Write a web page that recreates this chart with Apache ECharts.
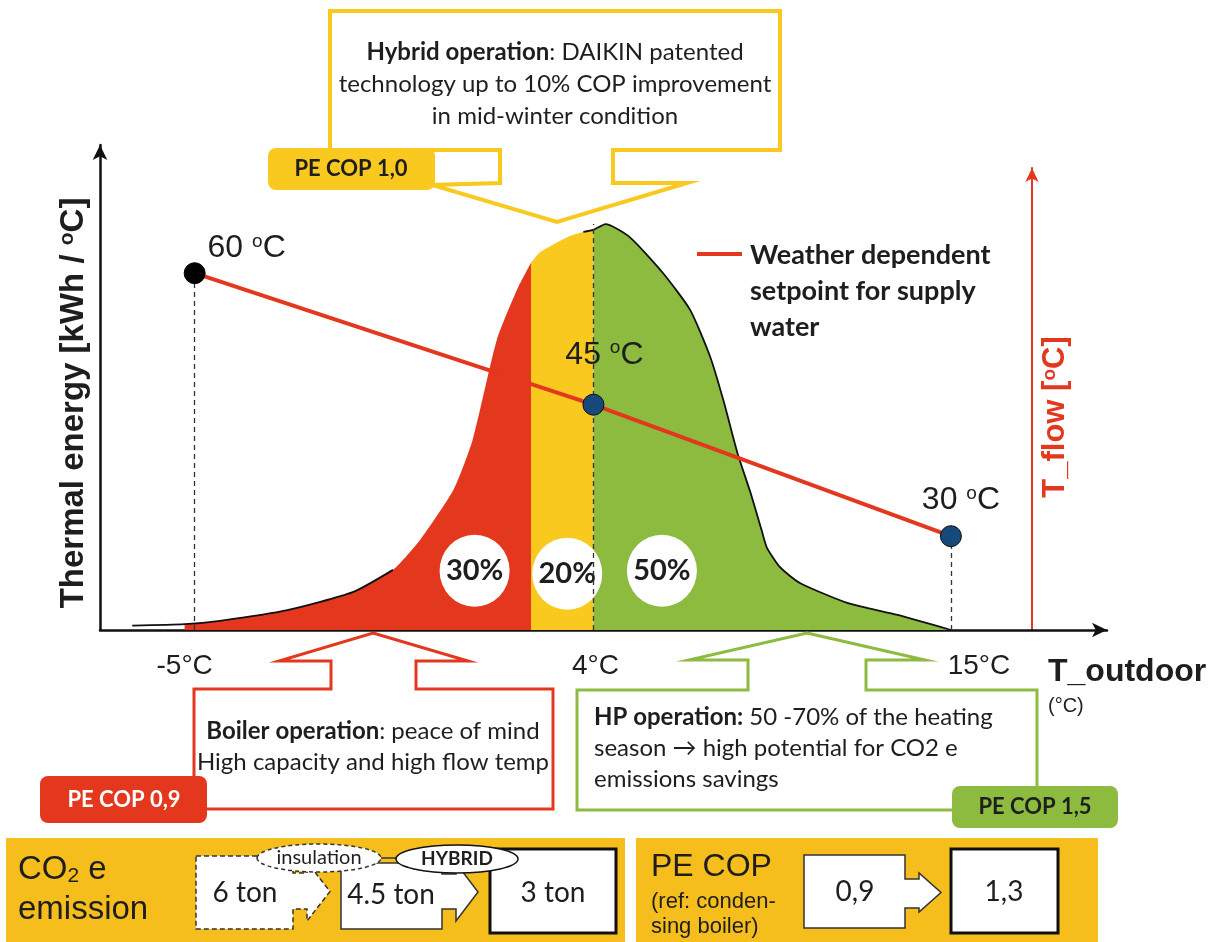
<!DOCTYPE html>
<html>
<head>
<meta charset="utf-8">
<title>Hybrid heating: thermal energy over outdoor temperature</title>
<script src="https://cdn.jsdelivr.net/npm/echarts@6.0.0/dist/echarts.min.js"></script>
<style>
  html, body { margin: 0; padding: 0; background: #ffffff; }
  #chart { width: 1221px; height: 942px; }
</style>
</head>
<body>
<div id="chart"></div>
<script>
// ---------- data ----------
// Heating energy demand along a schematic outdoor-temperature axis (position 0-100)
const curvePos    = [3.2, 8.4, 11.9, 18.6, 25.1, 29.1, 31.8, 35.1, 37.0, 39.4, 41.4, 42.8, 43.7, 46.4, 48.0, 49.0,
                     50.2, 52.6, 55.9, 58.6, 60.6, 61.9, 63.3, 64.6, 65.7, 66.2, 67.5, 69.5, 74.2, 79.2, 84.5];
const curveEnergy = [0.9, 1.2, 1.9, 4.1, 7.8, 12.4, 18.6, 28.9, 39.2, 59.8, 70.1, 75.7, 77.9, 81.0, 82.1, 82.5,
                     83.7, 81.0, 73.6, 66.0, 56.3, 47.4, 36.5, 28.3, 20.6, 17.1, 13.0, 9.7, 5.6, 3.1, 0];
// Boiler | hybrid | heat-pump zones: start, boundaries and end on the same axis
const zoneBounds = [8.4, 42.8, 49.0, 84.5];
const zoneShares = ['30%', '20%', '50%'];
const zoneCop    = ['PE COP 0,9', 'PE COP 1,0', 'PE COP 1,5'];
// Outdoor temperature marks and the weather-dependent supply water setpoint at each
const outdoorLabels = ['-5°C', '4°C', '15°C'];
const outdoorPos    = [9.4, 49.0, 84.5];
const flowTemps     = [60, 45, 30];
// Summary figures
const co2Steps   = ['6 ton', '4.5 ton', '3 ton'];
const co2Levers  = ['insulation', 'HYBRID'];
const peCopSteps = ['0,9', '1,3'];

// ---------- styling ----------
const RED = '#E3371E', YELLOW = '#F9C91F', GREEN = '#8CBB3F', PANEL = '#F6BE1D';
const INK = '#1e1e1e', DOT_BLUE = '#174A7A';
const SANS = 'Lato, "Open Sans", sans-serif';
const ARIAL = '"Liberation Sans", Arial, sans-serif';
const FLOW_MIN = 19.3, FLOW_MAX = 72;
const OUTLINE_TAIL_END = 29.1, OUTLINE_RIGHT_START = 48.0;
const SMOOTH = 0.2;
const shareAt = [[37.2, 12.2], [46.4, 11.6], [55.8, 12.2]];
const tickShift = [-10, 2, 28];
const flowLabelShift = [[52, -25], [11, -50], [10, -36]];

const pts = curvePos.map((p, k) => [p, curveEnergy[k]]);

const zoneSeries = [RED, YELLOW, GREEN].map((c, i) => ({
  type: 'line', name: 'zone' + i, xAxisIndex: 0, yAxisIndex: 0, z: 1, silent: true,
  symbol: 'none', smooth: SMOOTH, lineStyle: { width: 0 },
  areaStyle: { color: c, opacity: 1 },
  data: pts.filter(d => d[0] >= zoneBounds[i] && d[0] <= zoneBounds[i + 1])
}));

const outlineStyle = { color: '#111', width: 1.8 };
const dashed = { type: [5, 4], color: '#333', width: 1.3 };

const series = zoneSeries.concat([
  {
    type: 'line', xAxisIndex: 0, yAxisIndex: 0, z: 4, silent: true, symbol: 'none', smooth: SMOOTH,
    lineStyle: outlineStyle,
    data: pts.filter(d => d[0] <= OUTLINE_TAIL_END)
  },
  {
    type: 'line', xAxisIndex: 0, yAxisIndex: 0, z: 4, silent: true, symbol: 'none', smooth: SMOOTH,
    lineStyle: outlineStyle,
    data: pts.filter(d => d[0] >= OUTLINE_RIGHT_START),
    markLine: {
      silent: true, symbol: ['none', 'none'], label: { show: false }, lineStyle: dashed, z: 5,
      data: [[{ coord: [outdoorPos[1], 0] }, { coord: [outdoorPos[1], Math.max(...curveEnergy)] }]]
    }
  },
  {
    // white discs stating each zone's share of the season
    type: 'scatter', xAxisIndex: 0, yAxisIndex: 0, z: 3, silent: true,
    symbol: 'circle', symbolSize: [70, 72],
    itemStyle: { color: '#ffffff', opacity: 1 },
    label: {
      show: true, position: 'inside', formatter: p => zoneShares[p.dataIndex],
      fontFamily: SANS, fontWeight: 'bold', fontSize: 29, color: INK
    },
    data: shareAt
  },
  {
    // outdoor temperature tick labels
    type: 'scatter', xAxisIndex: 0, yAxisIndex: 0, z: 3, silent: true,
    symbolSize: 1, itemStyle: { color: 'rgba(0,0,0,0)', opacity: 1 },
    label: {
      show: true, position: 'bottom', distance: 22, formatter: '{b}',
      fontFamily: ARIAL, fontSize: 28, color: INK
    },
    data: outdoorPos.map((p, i) => ({ name: outdoorLabels[i], value: [p, 0], label: { offset: [tickShift[i], 0] } }))
  },
  {
    // weather dependent supply water setpoint
    type: 'line', xAxisIndex: 1, yAxisIndex: 1, z: 6, silent: true,
    symbol: 'circle', symbolSize: 21,
    lineStyle: { color: RED, width: 4 },
    label: {
      show: true, position: 'inside', color: INK,
      formatter: p => '{n|' + p.value[1] + ' }{s|o}{n|C}',
      rich: {
        n: { fontFamily: ARIAL, fontSize: 32, color: INK },
        s: { fontFamily: ARIAL, fontSize: 19, color: INK, verticalAlign: 'top' }
      }
    },
    data: outdoorPos.map((p, i) => ({
      value: [p, flowTemps[i]],
      itemStyle: i === 0 ? { color: '#000', borderColor: '#000', borderWidth: 1 }
                         : { color: DOT_BLUE, borderColor: '#0b0b0b', borderWidth: 1 },
      label: { offset: flowLabelShift[i] }
    })),
    markLine: {
      silent: true, symbol: ['none', 'none'], label: { show: false }, lineStyle: dashed,
      data: [0, 2].map(i => [{ coord: [outdoorPos[i], FLOW_MIN] }, { coord: [outdoorPos[i], flowTemps[i]] }])
    }
  }
]);

// ---------- annotation helpers ----------
function poly(points, stroke, lw, extra) {
  return { type: 'polygon', z: 1, shape: { points },
           style: Object.assign({ fill: '#ffffff', stroke, lineWidth: lw, lineJoin: 'miter' }, extra || {}) };
}
function box(x, y, w, h, fill, r, z) {
  return { type: 'rect', z: z === undefined ? 2 : z, shape: { x, y, width: w, height: h, r: r || 0 }, style: { fill } };
}
function text(x, y, str, style) {
  return { type: 'text', z: 10, x, y,
           style: Object.assign({ text: str, fill: INK, fontFamily: SANS, fontSize: 24,
                                  align: 'left', verticalAlign: 'middle' }, style || {}) };
}
function arrowBox(x0, y0, x1, y1, neckX, neckT, neckB, headT, headB, tipX) {
  const my = (headT + headB) / 2;
  return [[x0, y0], [x1, y0], [x1, neckT], [neckX, neckT], [neckX, headT], [tipX, my],
          [neckX, headB], [neckX, neckB], [x1, neckB], [x1, y1], [x0, y1]];
}
const boldRich = { b: { fontWeight: 'bold', fontFamily: SANS, fontSize: 24, fill: INK } };

const graphics = [
  // hybrid callout
  poly([[330, 11], [780, 11], [780, 150], [613, 150], [613, 183], [687, 183], [557, 222],
        [432, 185], [500, 183], [500, 150], [330, 150]], YELLOW, 4),
  text(555, 84, '{b|Hybrid operation}: DAIKIN patented\ntechnology up to 10% COP improvement\nin mid-winter condition',
       { align: 'center', lineHeight: 32, rich: boldRich }),
  box(268, 148, 167, 42, YELLOW, 8),
  text(351, 169, zoneCop[1], { align: 'center', fontWeight: 'bold', fontSize: 22 }),

  // boiler callout
  poly([[373, 633], [468, 661], [416, 661], [416, 689], [553, 689], [553, 809], [194, 809],
        [194, 689], [331, 689], [331, 661], [279, 661]], RED, 3),
  text(373, 747, '{b|Boiler operation}: peace of mind\nHigh capacity and high flow temp',
       { align: 'center', lineHeight: 31, rich: boldRich }),
  box(40, 776, 167, 47, RED, 8),
  text(124, 800, zoneCop[0], { align: 'center', fontWeight: 'bold', fontSize: 22, fill: '#ffffff' }),

  // heat pump callout
  poly([[807, 633], [925, 660], [866, 660], [866, 690], [1037, 690], [1037, 810], [577, 810],
        [577, 690], [748, 690], [748, 660], [689, 660]], GREEN, 3),
  text(594, 748, '{b|HP operation:} 50 -70% of the heating\nseason \u2192 high potential for CO2 e\nemissions savings',
       { align: 'left', lineHeight: 31, rich: boldRich }),
  box(952, 786, 166, 42, GREEN, 8),
  text(1035, 807, zoneCop[2], { align: 'center', fontWeight: 'bold', fontSize: 22 }),

  // setpoint legend
  { type: 'line', z: 10, shape: { x1: 697, y1: 254, x2: 742, y2: 254 }, style: { stroke: RED, lineWidth: 4 } },
  text(750, 291, 'Weather dependent\nsetpoint for supply\nwater', { fontWeight: 'bold', fontSize: 27, lineHeight: 36 }),

  // outdoor axis title
  text(1048, 672, 'T_outdoor', { fontFamily: ARIAL, fontWeight: 'bold', fontSize: 32 }),
  text(1048, 706, '(°C)', { fontFamily: ARIAL, fontSize: 20 }),

  // CO2 summary panel
  box(6, 838, 619, 110, PANEL, 0, 0),
  text(18, 870, '{a|CO}{u|2}{a| e}', {
    fontFamily: ARIAL, fontSize: 33,
    rich: { a: { fontFamily: ARIAL, fontSize: 33, fill: INK },
            u: { fontFamily: ARIAL, fontSize: 21, fill: INK, verticalAlign: 'bottom' } }
  }),
  text(18, 910, 'emission', { fontFamily: ARIAL, fontSize: 33 }),
  poly(arrowBox(196, 856, 293, 929, 307, 873, 909, 862, 921, 330), '#333', 1.5, { lineDash: [5, 3] }),
  poly(arrowBox(341, 863, 442, 929, 456, 874, 909, 863, 921, 478), '#333', 1.5),
  { type: 'rect', z: 1, shape: { x: 490, y: 849, width: 126, height: 84 },
    style: { fill: '#ffffff', stroke: '#111', lineWidth: 3 } },
  { type: 'line', z: 2, shape: { x1: 380, y1: 858, x2: 397, y2: 858 }, style: { stroke: '#333', lineWidth: 1.5 } },
  { type: 'ellipse', z: 3, shape: { cx: 319, cy: 858, rx: 62, ry: 14 },
    style: { fill: '#ffffff', stroke: '#333', lineWidth: 1.5, lineDash: [4, 3] } },
  { type: 'ellipse', z: 3, shape: { cx: 457, cy: 859, rx: 61, ry: 14 },
    style: { fill: '#ffffff', stroke: '#111', lineWidth: 1.5 } },
  text(319, 858, co2Levers[0], { align: 'center', fontSize: 20 }),
  text(457, 859, co2Levers[1], { align: 'center', fontSize: 19, fontWeight: 'bold' }),
  text(245, 893, co2Steps[0], { align: 'center', fontSize: 28 }),
  text(391, 895, co2Steps[1], { align: 'center', fontSize: 28 }),
  text(553, 893, co2Steps[2], { align: 'center', fontSize: 28 }),

  // primary energy COP summary panel
  box(636, 838, 462, 110, PANEL, 0, 0),
  text(651, 867, 'PE COP', { fontFamily: ARIAL, fontSize: 32 }),
  text(651, 914, '(ref: conden-\nsing boiler)', { fontFamily: ARIAL, fontSize: 22, lineHeight: 25 }),
  poly(arrowBox(804, 855, 905, 928, 919, 879, 908, 873, 912, 941), '#333', 1.5),
  { type: 'rect', z: 1, shape: { x: 951, y: 849, width: 107, height: 84 },
    style: { fill: '#ffffff', stroke: '#111', lineWidth: 3 } },
  text(855, 892, peCopSteps[0], { align: 'center', fontSize: 28 }),
  text(1004, 892, peCopSteps[1], { align: 'center', fontSize: 28 })
];

const option = {
  animation: false,
  backgroundColor: '#ffffff',
  grid: [
    { left: 100, right: 114, top: 145, bottom: 312, outerBoundsMode: 'none' },
    { left: 100, right: 114, top: 168, bottom: 312, outerBoundsMode: 'none' }
  ],
  xAxis: [
    { type: 'value', gridIndex: 0, min: 0, max: 100,
      axisLine: { show: true, onZero: false, symbol: ['none', 'arrow'], symbolSize: [11, 15],
                  lineStyle: { color: '#111', width: 2.5 } },
      axisTick: { show: false }, axisLabel: { show: false }, splitLine: { show: false } },
    { type: 'value', gridIndex: 1, min: 0, max: 100, show: false }
  ],
  yAxis: [
    { type: 'value', gridIndex: 0, min: 0, max: 100,
      axisLine: { show: true, onZero: false, symbol: ['none', 'arrow'], symbolSize: [11, 15],
                  lineStyle: { color: '#111', width: 2.5 } },
      axisTick: { show: false }, axisLabel: { show: false }, splitLine: { show: false },
      name: 'Thermal energy [kWh / {s|o}C]', nameLocation: 'middle', nameRotate: 90, nameGap: 10,
      nameTextStyle: {
        fontFamily: ARIAL, fontWeight: 'bold', fontSize: 33, color: INK, padding: [0, 31, 0, 0],
        rich: { s: { fontFamily: ARIAL, fontWeight: 'bold', fontSize: 21, color: INK, verticalAlign: 'top' } }
      } },
    { type: 'value', gridIndex: 1, min: FLOW_MIN, max: FLOW_MAX, position: 'right', offset: -75,
      axisLine: { show: true, onZero: false, symbol: ['none', 'arrow'], symbolSize: [10, 14],
                  lineStyle: { color: RED, width: 2 } },
      axisTick: { show: false }, axisLabel: { show: false }, splitLine: { show: false },
      name: 'T_flow [{s|o}C]', nameLocation: 'middle', nameRotate: 90, nameGap: 8,
      nameTextStyle: {
        fontFamily: ARIAL, fontWeight: 'bold', fontSize: 31, color: RED, padding: [0, 36, 0, 0],
        rich: { s: { fontFamily: ARIAL, fontWeight: 'bold', fontSize: 19, color: RED, verticalAlign: 'top' } }
      } }
  ],
  graphic: { elements: graphics },
  series
};

const chart = echarts.init(document.getElementById('chart'), null, { renderer: 'canvas' });
chart.setOption(option);
</script>
</body>
</html>
